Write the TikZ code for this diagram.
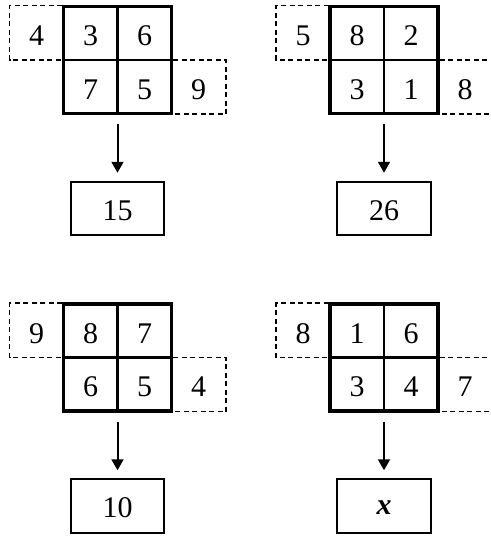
\documentclass[tikz,border=0pt]{standalone}
\usepackage{fontspec}
\setmainfont{Liberation Serif}
\usetikzlibrary{arrows.meta}
\tikzset{
 bigbox/.style={draw, line width=3.5pt, minimum width=108pt, minimum height=107pt, inner sep=0pt, outer sep=0pt},
 divider/.style={line width=2.2pt},
 dashbox/.style={line width=1.5pt, dash pattern=on 5pt off 3.5pt},
 num/.style={font=\fontsize{30}{32}\selectfont, inner sep=0pt},
 resbox/.style={draw, line width=1.8pt, minimum width=93.5pt, minimum height=53.5pt, inner sep=0pt, outer sep=0pt},
 pointer/.style={line width=2pt, -{Triangle[length=11pt,width=12pt]}, shorten <=10.5pt, shorten >=9pt}
}
\newcommand\puzzlepanel[9]{%
 \begin{scope}[shift={#2}]
  \node[bigbox] (#1box) at (0,0) {};
  \draw[divider] (#1box.north) -- (#1box.south);
  \draw[divider] (#1box.west) -- (#1box.east);
  \draw[dashbox] (-55.5,-54.4) -- (-108,-54.4) -- (-108,0) -- (-55.5,0);
  \draw[dashbox] (55.5,0) -- (108.5,0) -- (108.5,54) -- (55.5,54);
  \node[num] (#1l) at (-81,-24) {#3};
  \node[num] (#1a) at (-27,-24) {#4};
  \node[num] (#1b) at (27,-24) {#5};
  \node[num] (#1c) at (-27,29.5) {#6};
  \node[num] (#1d) at (27,29.5) {#7};
  \node[num] (#1r) at (81,29.5) {#8};
  \node[resbox] (#1res) at (0,148.5) {};
  \node[num] (#1val) at (0,150.5) {#9};
  \draw[pointer] (#1box.south) -- (#1res.north);
 \end{scope}}
\begin{document}
\begin{tikzpicture}[x=1pt,y=-1pt]
 \path[use as bounding box, clip] (0,0) rectangle (490,538);
 \fill[white] (0,0) rectangle (490,538);
 \puzzlepanel{p}{(117.5,60)}{4}{3}{6}{7}{5}{9}{15}
 \puzzlepanel{q}{(384,60)}{5}{8}{2}{3}{1}{8}{26}
 \puzzlepanel{s}{(117.5,357.5)}{9}{8}{7}{6}{5}{4}{10}
 \puzzlepanel{t}{(384,357.5)}{8}{1}{6}{3}{4}{7}{\textbf{\textit{x}}}
\end{tikzpicture}
\end{document}
